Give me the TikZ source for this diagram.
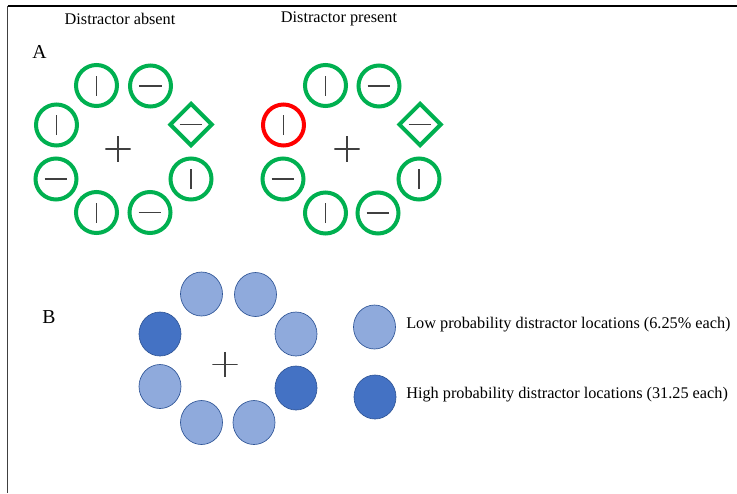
\documentclass[tikz,border=0pt]{standalone}
\usepackage{fontspec}
\setmainfont{Liberation Serif}
\newfontfamily\capfont{Liberation Serif}
\usetikzlibrary{shapes,positioning}
\definecolor{stimgreen}{RGB}{0,176,80}
\definecolor{lowblue}{RGB}{143,170,220}
\definecolor{highblue}{RGB}{68,114,196}
\definecolor{blueedge}{RGB}{47,85,151}
\definecolor{bargray}{RGB}{64,64,64}
\tikzstyle{stim}=[draw=stimgreen, circle, line width=3pt, minimum size=30.75pt, inner sep=0pt]
\tikzstyle{distractor}=[stim, draw=red]
\tikzstyle{oddstim}=[draw=stimgreen, diamond, line width=3pt, minimum size=32.25pt, inner sep=0pt]
\tikzstyle{vbar}=[path picture={\draw[bargray, line width=1pt] ([yshift=-7.5pt]path picture bounding box.center) -- ([yshift=7.5pt]path picture bounding box.center);}]
\tikzstyle{hbar}=[path picture={\draw[bargray, line width=1pt] ([xshift=-8.6pt]path picture bounding box.center) -- ([xshift=8.6pt]path picture bounding box.center);}]
\tikzstyle{fixation}=[minimum size=19pt, inner sep=0pt, path picture={\draw[bargray, line width=0.9pt] (path picture bounding box.west) -- (path picture bounding box.east) (path picture bounding box.north) -- (path picture bounding box.south);}]
\tikzstyle{lowloc}=[ellipse, draw=blueedge, line width=0.5pt, fill=lowblue, minimum width=31.5pt, minimum height=33pt, inner sep=0pt]
\tikzstyle{highloc}=[lowloc, fill=highblue]
\tikzstyle{caption}=[inner sep=0pt, font=\capfont\fontsize{12.2pt}{14pt}\selectfont]
\tikzstyle{panel}=[inner sep=0pt, font=\capfont\fontsize{14.8pt}{17pt}\selectfont]

\begin{document}
\begin{tikzpicture}[x=0.75pt, y=-0.75pt]
    \useasboundingbox (0,0) rectangle (737,493);
    % frame
    \draw[line width=1.4pt] (7.5,6) -- (737,6);
    \draw[bargray, line width=1.4pt] (7.5,6) -- (7.5,493);

    % titles and panel letters
    \node[caption] (tabsent) at (120,19) {Distractor absent};
    \node[caption] (tpresent) at (339,19) {Distractor present};
    \node[panel] (labA) at (39.5,52) {A};
    \node[panel] (labB) at (49,317) {B};

    % A: distractor absent
    \node[stim, vbar] (a1) at (96.5,85.5) {};
    \node[stim, hbar] (a2) at (150.5,86) {};
    \node[stim, vbar] (a3) at (56.5,125) {};
    \node[oddstim, hbar] (a4) at (191,124.5) {};
    \node[stim, hbar] (a5) at (56,179) {};
    \node[stim, vbar] (a6) at (191,179) {};
    \node[stim, vbar] (a7) at (96.5,212.5) {};
    \node[stim, hbar] (a8) at (150,212.5) {};
    \node[fixation] (fixA) at (118,149) {};

    % A: distractor present
    \node[stim, vbar] (p1) at (325.5,85.5) {};
    \node[stim, hbar] (p2) at (379,86) {};
    \node[distractor, vbar] (p3) at (283.5,125) {};
    \node[oddstim, hbar] (p4) at (420,124.5) {};
    \node[stim, hbar] (p5) at (283,179) {};
    \node[stim, vbar] (p6) at (419,179) {};
    \node[stim, vbar] (p7) at (325.5,213) {};
    \node[stim, hbar] (p8) at (378,213) {};
    \node[fixation] (fixP) at (347,149) {};

    % B: distractor locations
    \node[lowloc] (b1) at (201.5,294) {};
    \node[lowloc] (b2) at (255.5,294.5) {};
    \node[highloc] (b3) at (160,334) {};
    \node[lowloc] (b4) at (296,334) {};
    \node[lowloc] (b5) at (160,386.5) {};
    \node[highloc] (b6) at (296,388) {};
    \node[lowloc] (b7) at (201.5,422.5) {};
    \node[lowloc] (b8) at (254,422.5) {};
    \node[fixation] (fixB) at (225,364.5) {};

    % legend
    \node[lowloc] (keylow) at (374.5,327) {};
    \node[highloc] (keyhigh) at (375,397) {};
    \node[caption, anchor=west] (txtlow) at (406,325) {Low probability distractor locations (6.25\% each)};
    \node[caption, anchor=west] (txthigh) at (406,395) {High probability distractor locations (31.25 each)};
\end{tikzpicture}
\end{document}
